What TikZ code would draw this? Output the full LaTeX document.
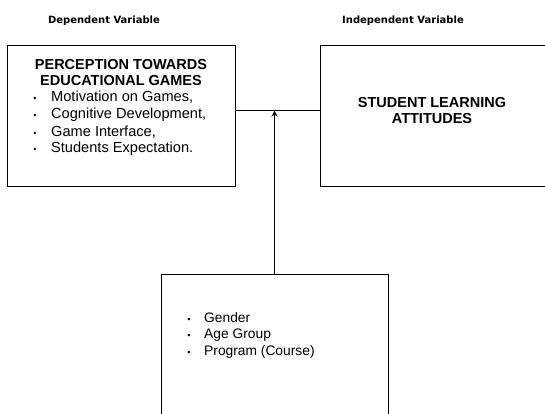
\documentclass[tikz,border=0pt]{standalone}
\usepackage{fontspec}
\setmainfont{Liberation Sans}
\newfontfamily\headfont{DejaVu Sans}
\usetikzlibrary{positioning}

\tikzset{
  box/.style={draw,rectangle,line width=0.9pt,inner sep=0pt},
  item/.style={anchor=base west,inner sep=0pt,font=\fontsize{14.6}{17}\selectfont},
  subitem/.style={anchor=base west,inner sep=0pt,font=\fontsize{13.8}{16}\selectfont},
  dot/.style={anchor=base,inner sep=0pt,font=\fontsize{9}{10}\selectfont},
  title/.style={anchor=base,inner sep=0pt,font=\fontsize{14.5}{16}\selectfont\bfseries},
  head/.style={anchor=base,inner sep=0pt,font=\headfont\fontsize{10}{11}\selectfont\bfseries},
  link/.style={line width=1.7pt},
}

\begin{document}
\begin{tikzpicture}[x=1pt,y=-1pt]
	\clip (0,0) rectangle (545,414);

	% boxes
	\node[box,minimum width=228pt,minimum height=141pt] (perception) at (121,115.5) {};
	\node[box,minimum width=240pt,minimum height=141pt] (attitudes) at (440,115.5) {};
	\node[box,minimum width=227pt,minimum height=156pt] (profile) at (274.5,352) {};

	% headers
	\node[head] (dep) at (104,24) {Dependent Variable};
	\node[head] (indep) at (403,24) {Independent Variable};

	% titles
	\node[title] (perc1) at (121,70) {PERCEPTION TOWARDS};
	\node[title] (perc2) at (121,86) {EDUCATIONAL GAMES};
	\node[title] (att1) at (432,108) {STUDENT LEARNING};
	\node[title] (att2) at (432,124) {ATTITUDES};

	% bullet items
	\foreach \t [count=\i] in {{Motivation on Games,},{Cognitive Development,},{Game Interface,},{Students Expectation.}} {
		\node[item] (pitem\i) at (51,85+17*\i) {\t};
		\node[dot] (pdot\i) at (35,85+17*\i) {\textbullet};
	}
	\foreach \t [count=\i] in {Gender,Age Group,Program (Course)} {
		\node[subitem] (gitem\i) at (204,305.5+16.5*\i) {\t};
		\node[dot] (gdot\i) at (189,305.5+16.5*\i) {\textbullet};
	}

	% connectors
	\coordinate (join) at (profile.north |- 0,110.5);
	\draw[link] (perception.east |- join) -- (attitudes.west |- join);
	\draw[link,-stealth] (profile.north) -- (join);
\end{tikzpicture}
\end{document}
